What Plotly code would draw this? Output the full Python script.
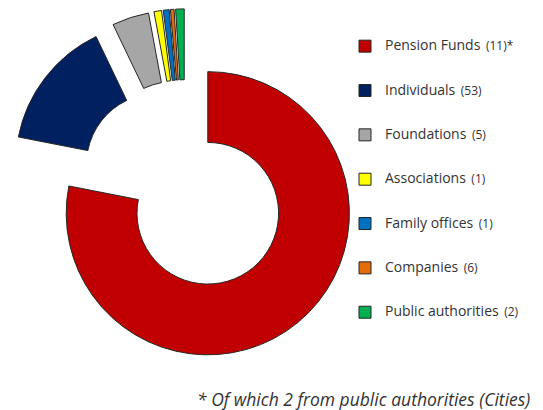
import plotly.graph_objects as go

categories = ["Pension Funds", "Individuals", "Foundations", "Associations",
              "Family offices", "Companies", "Public authorities"]
counts = ["(11)*", "(53)", "(5)", "(1)", "(1)", "(6)", "(2)"]
shares = [78.1, 14.8, 4.2, 0.86, 0.67, 0.42, 0.97]
colors = ["#C00000", "#002060", "#A6A6A6", "#FFFF00", "#0070C0", "#E46C0A", "#00B050"]
footnote = "* Of which 2 from public authorities (Cities)"

FONT = "Open Sans"
NB = "\u00a0"
legend_labels = [
    f"{NB}<br><span style='font-size:14px'>{c}</span>{NB}{NB}<span style='font-size:12px'>{n}</span><br>{NB}"
    for c, n in zip(categories, counts)
]

W, H = 543, 410
fig = go.Figure(go.Pie(
    labels=legend_labels,
    values=shares,
    marker=dict(colors=colors, line=dict(color="#262626", width=1)),
    hole=0.5,
    pull=[0.25] * len(shares),
    sort=False,
    direction="clockwise",
    rotation=0,
    textinfo="none",
    hoverinfo="skip",
    domain=dict(x=[0.3 / W, 354.3 / W], y=[1 - 354.9 / H, 1 - 0.9 / H]),
))

fig.add_annotation(
    text=f"<i>{footnote}</i>",
    xref="paper", yref="paper", x=524 / W, y=1 - 391 / H,
    xanchor="right", yanchor="middle", showarrow=False,
    font=dict(size=17.5, color="#333333", family=FONT),
)

fig.update_layout(
    width=W, height=H,
    margin=dict(l=0, r=0, t=0, b=0),
    paper_bgcolor="white", plot_bgcolor="white",
    font=dict(family=FONT, color="#333333"),
    showlegend=True,
    legend=dict(
        x=337 / W, y=1 - 11 / H, xanchor="left", yanchor="top",
        font=dict(size=10.6, color="#333333", family=FONT),
        bgcolor="rgba(0,0,0,0)", traceorder="normal",
    ),
)

fig.write_html("out.html")
